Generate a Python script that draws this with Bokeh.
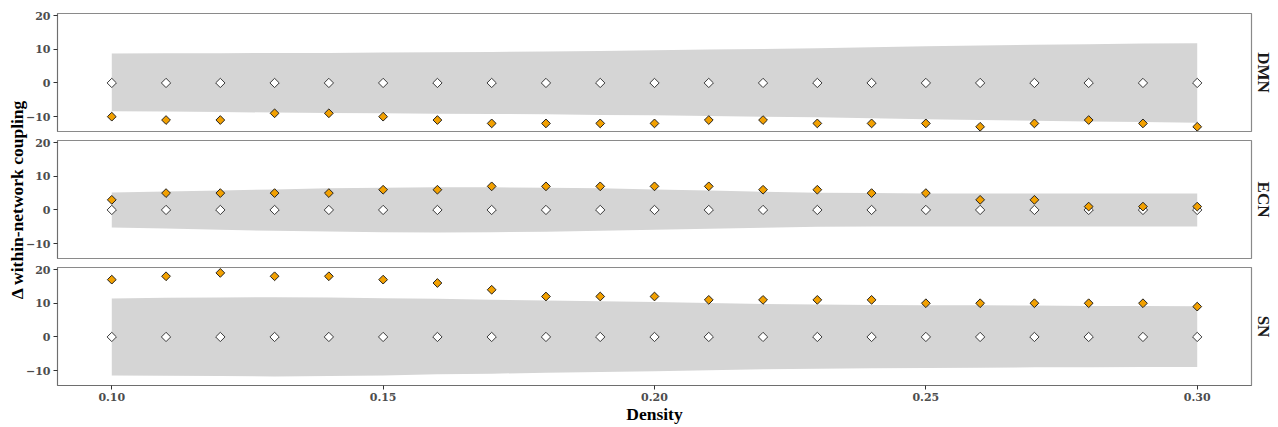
import numpy as np
from bokeh.plotting import figure
from bokeh.layouts import column, row
from bokeh.models import (Range1d, FixedTicker, Title, PrintfTickFormatter,
                          ColumnDataSource, Label)
from bokeh.embed import file_html
from bokeh.resources import INLINE

# ---------------- data ----------------
density = [0.10, 0.11, 0.12, 0.13, 0.14, 0.15, 0.16, 0.17, 0.18, 0.19, 0.20,
           0.21, 0.22, 0.23, 0.24, 0.25, 0.26, 0.27, 0.28, 0.29, 0.30]

networks = ["DMN", "ECN", "SN"]

null_vals = [0, 0, 0, 0, 0, 0, 0, 0, 0, 0, 0, 0, 0, 0, 0, 0, 0, 0, 0, 0, 0]

dmn_obs = [-10, -11, -11, -9, -9, -10, -11, -12, -12, -12, -12,
           -11, -11, -12, -12, -12, -13, -12, -11, -12, -13]
ecn_obs = [3, 5, 5, 5, 5, 6, 6, 7, 7, 7, 7,
           7, 6, 6, 5, 5, 3, 3, 1, 1, 1]
sn_obs = [17, 18, 19, 18, 18, 17, 16, 14, 12, 12, 12,
          11, 11, 11, 11, 10, 10, 10, 10, 10, 9]

dmn_upper = [8.7, 8.8, 8.8, 8.9, 8.9, 9.0, 9.1, 9.2, 9.3, 9.5, 9.7,
             9.9, 10.1, 10.3, 10.6, 10.9, 11.1, 11.3, 11.5, 11.7, 11.8]
dmn_lower = [-8.4, -8.5, -8.6, -8.8, -8.9, -9.0, -9.1, -9.2, -9.3, -9.5, -9.6,
             -9.8, -10.0, -10.2, -10.5, -10.8, -11.0, -11.2, -11.4, -11.6, -11.8]

ecn_upper = [5.2, 5.5, 5.8, 6.1, 6.4, 6.6, 6.7, 6.7, 6.6, 6.4, 6.1,
             5.8, 5.4, 5.1, 5.0, 4.9, 4.9, 4.9, 4.9, 4.9, 4.9]
ecn_lower = [-5.2, -5.5, -5.9, -6.2, -6.4, -6.6, -6.7, -6.6, -6.5, -6.2, -5.9,
             -5.6, -5.3, -5.0, -4.9, -4.9, -4.9, -4.9, -4.9, -4.9, -4.9]

sn_upper = [11.4, 11.6, 11.7, 11.8, 11.7, 11.5, 11.3, 11.0, 10.8, 10.6, 10.4,
            10.1, 9.8, 9.6, 9.5, 9.4, 9.4, 9.3, 9.2, 9.2, 9.1]
sn_lower = [-11.4, -11.5, -11.6, -11.7, -11.6, -11.4, -11.1, -10.9, -10.6, -10.4, -10.2,
            -9.9, -9.6, -9.4, -9.3, -9.2, -9.1, -9.0, -9.0, -8.9, -8.9]

x_ticks = [0.10, 0.15, 0.20, 0.25, 0.30]
y_ticks = [-10, 0, 10, 20]

y_title = "Δ within-network coupling"
x_title = "Density"

obs = {"DMN": dmn_obs, "ECN": ecn_obs, "SN": sn_obs}
upper = {"DMN": dmn_upper, "ECN": ecn_upper, "SN": sn_upper}
lower = {"DMN": dmn_lower, "ECN": ecn_lower, "SN": sn_lower}

# ---------------- style ----------------
TICK_FONT = "DejaVu Serif"
TITLE_FONT = "Liberation Serif"
TOTAL_W = 1278
TOTAL_H = 426
TW = 28                 # width of y-title strip
OVERLAP = 6             # main panels slide under the title strip's right edge
W = TOTAL_W - TW + OVERLAP
LEFT = 35
RIGHT = 27
FRAME_H = 118
TOPS = [13, 5, 5]
BOTTOMS = [4, 4, 0]
heights = [TOPS[0] + FRAME_H + BOTTOMS[0], TOPS[1] + FRAME_H + BOTTOMS[1]]
heights.append(TOTAL_H - sum(heights))
BOTTOMS[2] = heights[2] - TOPS[2] - FRAME_H
PANEL_BOTTOM = sum(heights[:2]) + TOPS[2] + FRAME_H

x_range = Range1d(0.09, 0.31)
figs = []
for i, net in enumerate(networks):
    last = (i == len(networks) - 1)
    p = figure(width=W, height=heights[i], x_range=x_range, y_range=Range1d(-14.4, 20.6),
               output_backend="svg", toolbar_location=None,
               x_axis_location="below" if last else None,
               min_border_left=LEFT, min_border_right=RIGHT,
               min_border_top=TOPS[i], min_border_bottom=BOTTOMS[i])
    p.grid.visible = False
    p.outline_line_color = "#8a8a8a"
    p.outline_line_width = 1.2
    p.background_fill_color = "white"
    p.border_fill_color = None

    src = ColumnDataSource(dict(x=density, obs=obs[net], null=null_vals,
                                up=upper[net], lo=lower[net]))
    p.varea(x="x", y1="lo", y2="up", source=src, fill_color="#d5d5d5")
    p.scatter(x="x", y="null", source=src, marker="square", angle=np.pi / 4,
              size=6.6, fill_color="white", line_color="#3a3a3a", line_width=1)
    p.scatter(x="x", y="obs", source=src, marker="square", angle=np.pi / 4,
              size=6.2, fill_color="#F2A000", line_color="#222222", line_width=1)

    ya = p.yaxis[0]
    ya.ticker = FixedTicker(ticks=y_ticks)
    ya.axis_label = None
    ya.axis_label_standoff = 0
    ya.minor_tick_line_color = None
    ya.major_tick_in = 0
    ya.major_tick_out = 4
    ya.major_tick_line_color = "#333333"
    ya.axis_line_color = "#6e6e6e"
    ya.major_label_standoff = 3
    ya.major_label_text_font = TICK_FONT
    ya.major_label_text_font_style = "bold"
    ya.major_label_text_font_size = "11px"
    ya.major_label_text_color = "#4d4d4d"

    if last:
        xa = p.xaxis[0]
        xa.ticker = FixedTicker(ticks=x_ticks)
        xa.formatter = PrintfTickFormatter(format="%.2f")
        xa.minor_tick_line_color = None
        xa.major_tick_in = 0
        xa.major_tick_out = 4
        xa.major_tick_line_color = "#333333"
        xa.axis_line_color = "#6e6e6e"
        xa.major_label_standoff = 3
        xa.major_label_text_font = TICK_FONT
        xa.major_label_text_font_style = "bold"
        xa.major_label_text_font_size = "11px"
        xa.major_label_text_color = "#4d4d4d"
        xa.axis_label = x_title
        xa.axis_label_text_font = TITLE_FONT
        xa.axis_label_text_font_style = "bold"
        xa.axis_label_text_font_size = "17.5px"
        xa.axis_label_text_color = "black"
        xa.axis_label_standoff = 0

    t = Title(text=net, align="center", text_font=TITLE_FONT, text_font_style="bold",
              text_font_size="17px", text_color="#1a1a1a", standoff=5)
    p.add_layout(t, "right")
    figs.append(p)

# y-axis title strip (spans all three panels)
tf = figure(width=TW, height=TOTAL_H, x_range=Range1d(0, TW), y_range=Range1d(0, 1),
            output_backend="svg", toolbar_location=None,
            x_axis_location=None, y_axis_location=None,
            min_border_left=0, min_border_right=0,
            min_border_top=TOPS[0], min_border_bottom=TOTAL_H - PANEL_BOTTOM)
tf.grid.visible = False
tf.outline_line_color = None
tf.border_fill_color = "white"
tf.background_fill_color = "white"
tf.add_layout(Label(x=16.5, y=0.5, text=y_title, angle=90, angle_units="deg",
                    text_align="center", text_baseline="middle",
                    text_font=TITLE_FONT, text_font_style="bold",
                    text_font_size="17.5px", text_color="black"))

panels = column(*figs, spacing=0, styles={"margin-left": f"-{OVERLAP}px"})
layout = row(tf, panels, spacing=0)
open("out.html", "w").write(file_html(layout, INLINE))
